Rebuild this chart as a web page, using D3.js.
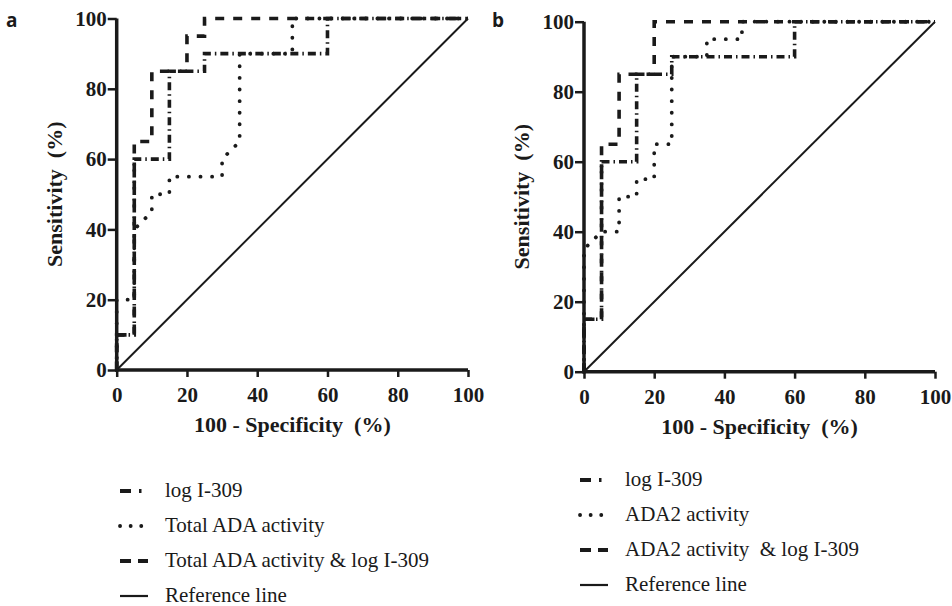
<!DOCTYPE html>
<html><head><meta charset="utf-8">
<script src="https://cdn.jsdelivr.net/npm/d3@7"></script>
<style>body{margin:0;background:#fff}</style>
</head><body>
<svg id="c" width="952" height="606"></svg>
<script>
// ---- data ----
const xTicks = [0, 20, 40, 60, 80, 100];
const yTicks = [0, 20, 40, 60, 80, 100];
// panel a
const aLogI309 = [[0,0],[0,10],[5,10],[5,60],[15,60],[15,85],[25,85],[25,90],[60,90],[60,100],[100,100]];
const aTotalADA = [[0,0],[0,20],[5,20],[5,40],[10,45],[10,50],[15,50],[15,55],[30,55],[30,60],[35,65],[35,90],[50,90],[50,100],[100,100]];
const aCombined = [[0,0],[0,10],[5,10],[5,65],[10,65],[10,85],[20,85],[20,95],[25,95],[25,100],[100,100]];
// panel b
const bLogI309 = [[0,0],[0,15],[5,15],[5,60],[15,60],[15,85],[25,85],[25,90],[60,90],[60,100],[100,100]];
const bADA2 = [[0,0],[0,35],[5,40],[10,40],[10,50],[15,50],[15,55],[20,55],[20,65],[25,65],[25,90],[35,90],[35,95],[45,95],[45,100],[100,100]];
const bCombined = [[0,0],[0,15],[5,15],[5,65],[10,65],[10,85],[20,85],[20,100],[100,100]];
const refLine = [[0,0],[100,100]];
const legendA = ["log I-309", "Total ADA activity", "Total ADA activity & log I-309", "Reference line"];
const legendB = ["log I-309", "ADA2 activity", "ADA2 activity  & log I-309", "Reference line"];

const styles = {
  dashdot: {dash: "8,4,1.5,4", cap: "butt", w: 3.6},
  dotted: {dash: "0.1,11.5", cap: "round", w: 3.8},
  dashed: {dash: "9,9", cap: "butt", w: 3.6},
  solid: {dash: null, cap: "butt", w: 2}
};
const legStyles = {
  dashdot: {dash: "11,8,2.5,20", cap: "butt", w: 3.8},
  dotted: {dash: "0.1,10.5", cap: "round", w: 3.8},
  dashed: {dash: "11,7", cap: "butt", w: 3.8},
  solid: {dash: null, cap: "butt", w: 2.2}
};

const ink = "#1a1a1a";
const svg = d3.select("#c");

function panel(opts) {
  const g = svg.append("g");
  const x = d3.scaleLinear().domain([0,100]).range([opts.x0, opts.x1]);
  const y = d3.scaleLinear().domain([0,100]).range([opts.y0, opts.y1]);
  const line = d3.line().x(d => x(d[0])).y(d => y(d[1]));

  const series = [
    {d: opts.s1, st: styles.dashdot},
    {d: opts.s2, st: styles.dotted},
    {d: opts.s3, st: styles.dashed},
    {d: refLine, st: styles.solid}
  ];
  series.forEach(s => {
    g.append("path").attr("d", line(s.d)).attr("fill","none").attr("stroke",ink)
      .attr("stroke-width", s.st.w).attr("stroke-linecap", s.st.cap)
      .attr("stroke-dasharray", s.st.dash);
  });

  const xa = g.append("g").attr("transform", `translate(0,${opts.y0})`)
    .call(d3.axisBottom(x).tickValues(xTicks).tickSize(7).tickPadding(10).tickFormat(d3.format("d")));
  const ya = g.append("g").attr("transform", `translate(${opts.x0},0)`)
    .call(d3.axisLeft(y).tickValues(yTicks).tickSize(9).tickPadding(1).tickFormat(d3.format("d")));
  [xa, ya].forEach(a => {
    a.select(".domain").attr("stroke",ink).attr("stroke-width",3.5);
    a.selectAll(".tick line").attr("stroke",ink).attr("stroke-width",2.5);
    a.selectAll("text").attr("font-family","'Liberation Serif', serif").attr("font-weight","bold")
      .attr("font-size",21).attr("fill",ink);
  });
  ya.select(".domain").attr("d", `M0,${opts.y0+1.5}V${opts.y1}`);
  xa.select(".domain").attr("d", `M${opts.x0-1.5},0H${opts.x1}`);

  // axis titles
  g.append("text").attr("x", (opts.x0+opts.x1)/2).attr("y", opts.y0 + 62)
    .attr("text-anchor","middle").attr("font-family","'Liberation Serif', serif")
    .attr("font-weight","bold").attr("font-size",22).attr("fill",ink)
    .attr("xml:space","preserve").text("100 - Specificity  (%)");
  g.append("text").attr("transform", `translate(${opts.x0-55},${(opts.y0+opts.y1)/2}) rotate(-90)`)
    .attr("text-anchor","middle").attr("font-family","'Liberation Serif', serif")
    .attr("font-weight","bold").attr("font-size",22).attr("fill",ink)
    .attr("xml:space","preserve").text("Sensitivity  (%)");

  // panel label
  g.append("text").attr("x", opts.lx).attr("y", 27).attr("font-family","'Open Sans', sans-serif")
    .attr("font-weight","bold").attr("font-size",19).attr("fill",ink).text(opts.label);

  // legend
  const ls = [legStyles.dashdot, legStyles.dotted, legStyles.dashed, legStyles.solid];
  opts.legend.forEach((t, i) => {
    const yy = opts.legY + i*opts.legStep;
    g.append("line").attr("x1", opts.legX).attr("x2", opts.legX + 28)
      .attr("y1", yy).attr("y2", yy).attr("stroke",ink)
      .attr("stroke-width", ls[i].w).attr("stroke-linecap", ls[i].cap)
      .attr("stroke-dasharray", ls[i].dash);
    g.append("text").attr("x", opts.legX + 45).attr("y", yy + 6).attr("font-family","'Liberation Serif', serif")
      .attr("font-size",21).attr("fill",ink).attr("xml:space","preserve").text(t);
  });
}

panel({x0:116.7, x1:468, y0:370, y1:18.5, s1:aLogI309, s2:aTotalADA, s3:aCombined,
  label:"a", lx:6, legend:legendA, legX:120, legY:491, legStep:35});
panel({x0:584, x1:935, y0:371.7, y1:21.7, s1:bLogI309, s2:bADA2, s3:bCombined,
  label:"b", lx:492, legend:legendB, legX:580, legY:480, legStep:35});
</script>
</body></html>
